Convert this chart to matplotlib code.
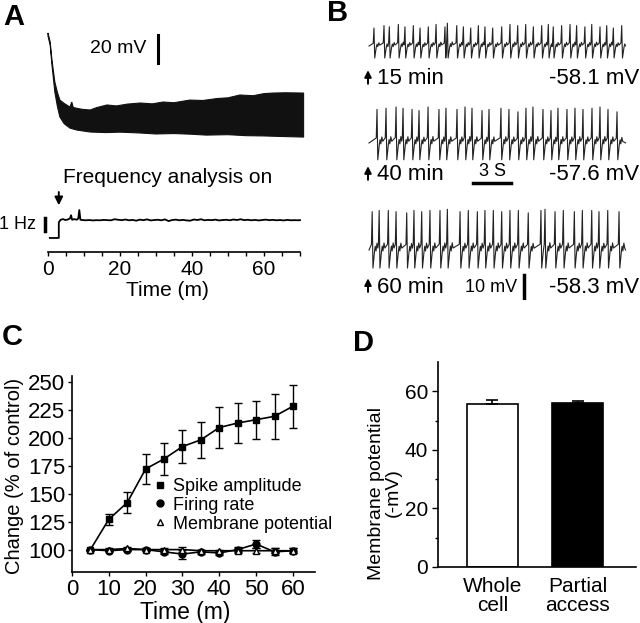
import numpy as np
import matplotlib
matplotlib.use("Agg")
import matplotlib.pyplot as plt
from matplotlib.lines import Line2D

plt.rcParams['font.family'] = ['Liberation Sans', 'DejaVu Sans']

W, H = 640, 623

# ---------------- panel A: whole-recording envelope (mV) ----------------
TOP_T = [0, 0.6, 1.1, 1.9, 2.6, 3.3, 4.5, 6.1, 6.6, 7.0, 8, 9.5, 11.7, 13.5, 16.4, 19, 22,
         25.6, 29, 32, 35, 39.4, 43, 47, 50, 53.3, 57, 60, 62.5, 66, 71]
TOP_V = [14.3, 7.9, -5, -20.7, -28, -33.6, -36, -38.6, -35, -38.8, -39.5, -40.2, -40.7,
         -39, -37.1, -37.8, -36.5, -35.7, -36.3, -35, -35.5, -33.6, -33.9, -32.5, -32,
         -30, -30.5, -29, -28.6, -28.4, -28.6]
BOT_T = [0, 0.6, 1.1, 1.9, 2.6, 3.3, 4.5, 6.1, 8, 11.7, 16, 20, 25.6, 30, 35, 40, 44,
         50, 55, 60, 65, 71]
BOT_V = [12.0, 5.7, -8.6, -27.9, -38, -45.7, -50.5, -53.6, -55, -56.4, -56.8, -56.5,
         -57.1, -57.8, -57.5, -58, -58.6, -58.3, -59, -59.2, -59.6, -60]

# frequency analysis trace (Hz)
FREQ_T_HEAD = [0.5, 3.0, 3.0, 3.5, 4.2, 4.8, 5.5, 6.1, 6.4, 6.7, 7.3, 8.0, 8.4, 8.7, 9.0, 9.6]
FREQ_HEAD = [0, 0, 1.2, 1.4, 1.45, 1.38, 1.42, 1.5, 1.75, 1.4, 1.45, 1.4, 1.5, 2.15, 1.4, 1.38]
FREQ_T_TAIL = np.arange(10.5, 70, 1.0)
FREQ_TAIL = [1.36, 1.38, 1.35, 1.37, 1.36, 1.39, 1.37, 1.36, 1.44, 1.40,
             1.37, 1.42, 1.36, 1.39, 1.33, 1.41, 1.37, 1.43, 1.35, 1.38,
             1.40, 1.36, 1.43, 1.30, 1.38, 1.41, 1.36, 1.39, 1.35, 1.33,
             1.42, 1.38, 1.44, 1.36, 1.39, 1.37, 1.41, 1.35, 1.38, 1.40,
             1.36, 1.42, 1.38, 1.44, 1.37, 1.40, 1.36, 1.39, 1.35, 1.38,
             1.41, 1.37, 1.39, 1.36, 1.38, 1.35, 1.39, 1.36, 1.37, 1.36]

# ---------------- panel B: spike trains ----------------
SPIKES_15 = [0.39, 1.18, 1.6, 2.31, 2.83, 3.49, 4.02, 4.67, 5.28, 5.98, 6.17, 6.91, 7.43,
             8.01, 8.61, 9.13, 9.74, 10.45, 11.1, 11.71, 12.34, 12.94, 13.6, 14.12, 14.51,
             15.17, 15.83, 16.35, 17.0, 17.54, 18.19, 18.72, 19.24, 19.9]
PEAKS_15 = [7.5, 8.5, 8, 9, 8, 8.5, 7.5, 8, 9, 8, 9.5, 8.5, 8, 7.5, 8.5, 8, 7.5, 8, 9, 8.5,
            9, 8, 8.5, 9, 8, 8.5, 9, 8.5, 8, 9, 8, 8.5, 7.5, 8.5]
SPIKES_40 = [0.63, 1.34, 2.13, 2.68, 3.39, 3.94, 4.65, 5.51, 6.06, 6.93, 7.56, 8.11, 8.9,
             9.45, 10.39, 11.02, 11.73, 12.36, 12.91, 13.7, 14.33, 14.88, 15.59, 16.22,
             16.85, 17.56, 18.19, 18.82, 19.53]
PEAKS_40 = [14, 14.5, 15, 14.5, 14, 13.5, 15, 14, 14.5, 14, 15, 14.5, 13.5, 14, 14.5, 14,
            13, 14.5, 15, 14, 13.5, 14.5, 14, 14.5, 14, 14.5, 15, 14, 13]
SPIKES_60 = [0.25, 0.8, 1.52, 2.13, 2.97, 3.54, 4.15, 4.8, 5.59, 6.17, 7.17, 7.82, 8.53,
             9.13, 9.79, 10.45, 11.1, 11.76, 12.54, 13.54, 13.86, 14.65, 15.3, 16.17, 16.8,
             17.54, 18.11, 18.8, 19.69]
PEAKS_60 = [16, 16.5, 16.5, 16, 15.5, 16.5, 16, 16.5, 16.5, 17, 16, 16.5, 16, 16.5, 16.5,
            16, 16.5, 16.5, 15.5, 16.5, 17, 16, 16.5, 16, 16.5, 16.5, 16, 16.5, 16]
# spike waveform: offsets (s) and shape (+ scaled by peak, - scaled by AHP depth)
SPIKE_DT = [-0.06, 0.0, 0.06, 0.12, 0.18, 0.24, 0.30, 0.38, 0.45]
SPIKE_SHAPE = [0.15, 1.0, -1.0, -0.55, -0.1, 0.1, -0.05, 0.18, 0.05]
TRACE_LABELS = ['15 min', '40 min', '60 min']
TRACE_VM = ['-58.1 mV', '-57.6 mV', '-58.3 mV']

# ---------------- panel C ----------------
TIME_C = [5, 10, 15, 20, 25, 30, 35, 40, 45, 50, 55, 60]
SPIKE_AMP = [100, 127, 142, 172, 181, 192, 198, 209, 213, 216, 219, 228]
SPIKE_ERR = [0, 5, 9, 13, 14, 15, 16, 18, 18, 17, 20, 19]
FIRING = [100, 99, 100, 100, 98, 96, 98, 97, 100, 105, 98, 99]
FIRING_ERR = [0, 0, 1, 1, 2, 4, 2, 2, 2, 4, 3, 2]
MEMBRANE = [100, 100, 101, 100, 100, 100, 99, 99, 99, 99, 99, 99]
MEMBRANE_ERR = [0, 1, 1, 1, 1, 2, 1, 1, 2, 2, 2, 2]

# ---------------- panel D ----------------
BAR_LABELS = ['Whole\ncell', 'Partial\naccess']
BAR_VALUES = [55.5, 56.0]
BAR_ERR = [1.5, 0.8]
BAR_COLORS = ['white', 'black']


def px_axes(fig, l, t, r, b):
    return fig.add_axes([l / W, 1 - b / H, (r - l) / W, (b - t) / H])


def build_trace(spikes, peaks, depth, t_end):
    ts, vs = [0.0], [0.0]
    for i, (s, p) in enumerate(zip(spikes, peaks)):
        nxt = spikes[i + 1] + SPIKE_DT[0] if i + 1 < len(spikes) else t_end
        for dt, sh in zip(SPIKE_DT, SPIKE_SHAPE):
            t = s + dt
            if t <= ts[-1] or t >= nxt or t > t_end:
                continue
            ts.append(t)
            vs.append(sh * p if sh > 0 else sh * depth)
    ts.append(t_end); vs.append(0.05)
    return np.array(ts), np.array(vs)


fig = plt.figure(figsize=(W / 100, H / 100), dpi=100)

# ---- A top ----
axa = px_axes(fig, 48, 30, 300, 140)
axa.set_xlim(0, 70); axa.set_ylim(-62.1, 16.4); axa.axis("off")
axa.fill(np.r_[TOP_T, BOT_T[::-1]], np.r_[TOP_V, BOT_V[::-1]], color="#111", lw=0.8,
         clip_on=False)
axa.plot([30.6, 30.6], [12.9, -7.1], color="k", lw=2.2)
axa.text(27.3, 2.9, "20 mV", ha="right", va="center", fontsize=14)

# ---- A freq ----
axf = px_axes(fig, 48, 180, 300, 252)
axf.set_xlim(0, 70); axf.set_ylim(-1.08, 4.46)
for s in ["top", "right", "left"]:
    axf.spines[s].set_visible(False)
axf.spines["bottom"].set_linewidth(1.2)
axf.set_yticks([])
axf.set_xticks([0, 20, 40, 60])
axf.set_xticks(np.arange(0, 71, 5), minor=True)
axf.tick_params(axis="x", which="both", length=3, width=1, labelsize=15, pad=3)
axf.plot(np.r_[FREQ_T_HEAD, FREQ_T_TAIL, 70], np.r_[FREQ_HEAD, FREQ_TAIL, 1.37],
         color="k", lw=1.3, clip_on=False)
axf.plot([-0.7, -0.7], [0.54, 1.54], color="k", lw=2.5, clip_on=False)
axf.text(-3.2, 1.0, "1 Hz", ha="right", va="center", fontsize=13)
axf.annotate("", xy=(3.0, 2.3), xytext=(3.0, 3.75),
             arrowprops=dict(arrowstyle="-|>", lw=1.4, color="k", mutation_scale=12))
axf.text(33.1, 4.69, "Frequency analysis on", ha="center", va="center", fontsize=15,
         clip_on=False)
axf.text(33.1, -(291 - 238) / 13, "Time (m)", ha="center", va="center", fontsize=15,
         clip_on=False)

# ---- B ----
axb = px_axes(fig, 360, 10, 640, 300)
axb.set_xlim(-0.71, 21.34); axb.set_ylim(0, 120.8); axb.axis("off")
traces = [(SPIKES_15, PEAKS_15, 5.0, 105.8), (SPIKES_40, PEAKS_40, 7.0, 65.4),
          (SPIKES_60, PEAKS_60, 7.5, 20.8)]
label_y = [92.1, 52.1, 5.4]
for (sp, pk, dep, base), ly, lab, vm in zip(traces, label_y, TRACE_LABELS, TRACE_VM):
    tt, vv = build_trace(sp, pk, dep, 20.2)
    axb.plot(tt, vv + base, color="#222", lw=0.8)
    axb.annotate("", xy=(-0.08, ly + 4.8), xytext=(-0.08, ly - 3.2),
                 arrowprops=dict(arrowstyle="-|>", lw=1.4, color="k", mutation_scale=10))
    axb.text(0.6, ly, lab, ha="left", va="center", fontsize=16)
    axb.text(21.3, ly, vm, ha="right", va="center", fontsize=16)
axb.plot([8.19, 11.18], [48.75, 48.75], color="k", lw=2.5)
axb.text(9.7, 53.6, "3 S", ha="center", va="center", fontsize=13)
axb.plot([12.2, 12.2], [0.4, 10.4], color="k", lw=2.5)
axb.text(11.7, 5.4, "10 mV", ha="right", va="center", fontsize=13)

# ---- C ----
axc = px_axes(fig, 72, 376, 315, 572)
axc.set_xlim(0, 66); axc.set_ylim(80, 255)
for s in ["top", "right"]:
    axc.spines[s].set_visible(False)
for s in ["left", "bottom"]:
    axc.spines[s].set_linewidth(1.2)
axc.errorbar(TIME_C, SPIKE_AMP, yerr=SPIKE_ERR, fmt="-s", color="k", ms=5, lw=1.2,
             capsize=3, elinewidth=1)
axc.errorbar(TIME_C, FIRING, yerr=FIRING_ERR, fmt="-o", color="k", ms=5, lw=1.2,
             capsize=3, elinewidth=1)
axc.errorbar(TIME_C, MEMBRANE, yerr=MEMBRANE_ERR, fmt="-^", color="k", mfc="white",
             ms=5, lw=1.2, capsize=3, elinewidth=1)
axc.set_xticks(range(0, 61, 10))
axc.set_yticks(range(100, 251, 25))
axc.tick_params(length=3, width=1, labelsize=16, pad=2)
handles = [Line2D([], [], ls="none", marker="s", color="k", ms=5),
           Line2D([], [], ls="none", marker="o", color="k", ms=5),
           Line2D([], [], ls="none", marker="^", color="k", mfc="white", ms=5)]
axc.legend(handles, ["Spike amplitude", "Firing rate", "Membrane potential"],
           loc="upper left", bbox_to_anchor=((155 - 72) / 243, (572 - 478) / 196),
           frameon=False, fontsize=13, handlelength=0.6, handletextpad=0.4,
           labelspacing=0.1, borderpad=0, borderaxespad=0)
axc.text((15 - 72) / 243, (572 - 476) / 196, "Change (% of control)", rotation=90,
         ha="center", va="center", fontsize=14.5, transform=axc.transAxes)
axc.text((185 - 72) / 243, (572 - 612) / 196, "Time (m)", ha="center", va="center",
         fontsize=16.5, transform=axc.transAxes)

# ---- D ----
axd = px_axes(fig, 438, 362, 636, 567)
axd.set_xlim(-0.641, 1.688); axd.set_ylim(0, 70)
for s in ["top", "right"]:
    axd.spines[s].set_visible(False)
for s in ["left", "bottom"]:
    axd.spines[s].set_linewidth(1.2)
xpos = np.arange(len(BAR_VALUES))
axd.bar(xpos, BAR_VALUES, width=0.6, color=BAR_COLORS, edgecolor="k", lw=1.2,
        yerr=[[0, 0], BAR_ERR], capsize=4.5, error_kw=dict(elinewidth=1.2, capthick=1.2))
axd.set_xticks(xpos)
axd.set_xticklabels(BAR_LABELS, linespacing=1.05)
axd.set_yticks([0, 20, 40, 60])
axd.set_yticks([10, 30, 50], minor=True)
axd.tick_params(axis="y", which="both", length=4, width=1, labelsize=15, pad=3)
axd.tick_params(axis="y", which="minor", length=2)
axd.tick_params(axis="x", length=0, labelsize=15, pad=7)
axd.text((385 - 438) / 198, (567 - 493) / 205, "Membrane potential\n(-mV)", rotation=90,
         ha="center", va="center", fontsize=14, linespacing=0.95, transform=axd.transAxes)

# panel letters
for letter, x, y in [("A", 3, 17), ("B", 327, 13), ("C", 2, 337), ("D", 353, 343)]:
    fig.text(x / W, 1 - y / H, letter, fontsize=21, fontweight="bold", ha="left", va="center")

fig.savefig("out.png", dpi=100)
